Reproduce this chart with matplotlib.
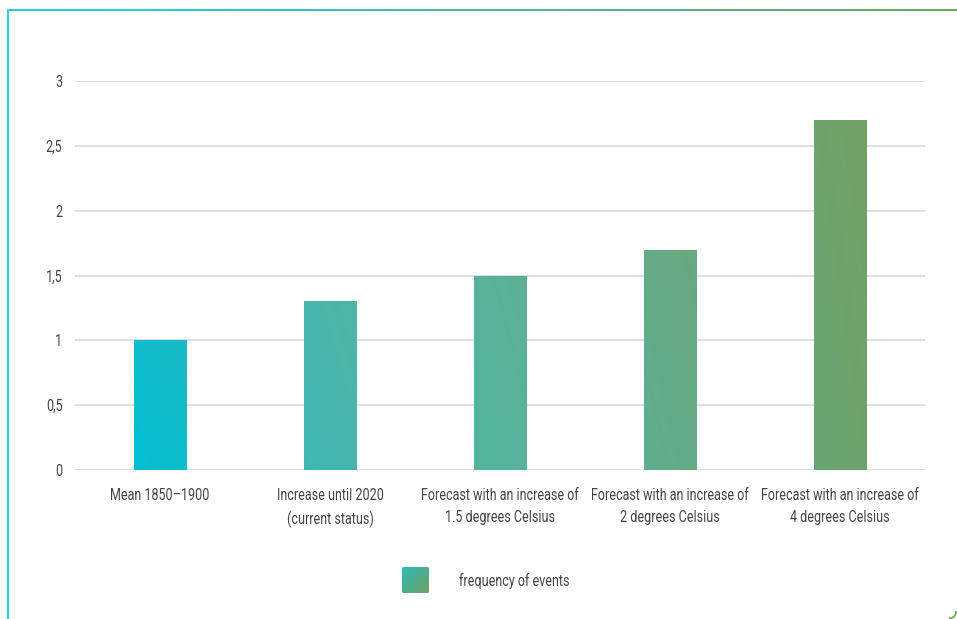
import os
import numpy as np
import matplotlib
matplotlib.use("Agg")
import matplotlib.pyplot as plt
from matplotlib import font_manager
from matplotlib.font_manager import FontProperties
from matplotlib.colors import LinearSegmentedColormap
from matplotlib.patches import Rectangle, FancyBboxPatch
from matplotlib.collections import LineCollection

categories = ["Mean 1850–1900",
              "Increase until 2020\n(current status)",
              "Forecast with an increase of\n1.5 degrees Celsius",
              "Forecast with an increase of\n2 degrees Celsius",
              "Forecast with an increase of\n4 degrees Celsius"]
values = [1.0, 1.3, 1.5, 1.7, 2.7]
yticks = [0, 0.5, 1, 1.5, 2, 2.5, 3]
ytick_labels = ["0", "0,5", "1", "1,5", "2", "2,5", "3"]
legend_label = "frequency of events"


def make_narrow_font(sx=0.72):
    """Build a horizontally condensed copy of Roboto (still a real font)."""
    from fontTools.ttLib import TTFont
    src = font_manager.findfont(FontProperties(family="Roboto"), fallback_to_default=False)
    f = TTFont(src)
    if "glyf" not in f:
        raise RuntimeError("not truetype")
    for t in ("gvar", "HVAR", "fvar", "avar", "STAT", "MVAR", "cvar", "GPOS", "kern"):
        if t in f:
            del f[t]
    glyf = f["glyf"]
    for name in glyf.keys():
        g = glyf[name]
        if g.isComposite():
            for c in g.components:
                c.x = int(round(c.x * sx))
        elif g.numberOfContours > 0:
            g.coordinates.scale((sx, 1.0))
            g.coordinates.toInt()
        if g.numberOfContours != 0:
            g.recalcBounds(glyf)
    hmtx = f["hmtx"]
    for name, (adv, lsb) in list(hmtx.metrics.items()):
        hmtx.metrics[name] = (int(round(adv * sx)), int(round(lsb * sx)))
    fam = "RobotoNarrowed"
    for rec in f["name"].names:
        if rec.nameID in (1, 4, 6, 16, 21):
            rec.string = fam
        elif rec.nameID in (2, 17, 22):
            rec.string = "Regular"
    out = os.path.abspath("roboto_narrowed.ttf")
    f.save(out)
    font_manager.fontManager.addfont(out)
    return FontProperties(fname=out)


try:
    fp = make_narrow_font(0.72)
    base_size = 12.5
except Exception:
    fp = FontProperties(family=["Roboto", "DejaVu Sans"])
    base_size = 8.5

W, H = 957, 619
fig = plt.figure(figsize=(W / 100, H / 100), dpi=100)
fig.patch.set_facecolor("white")

ax = fig.add_axes([75 / W, (H - 470) / H, 850 / W, (470 - 81) / H])

bar_colors = [((4, 192, 212), (24, 186, 196)),
              ((62, 184, 180), (80, 180, 164)),
              ((82, 181, 160), (92, 176, 148)),
              ((94, 174, 142), (106, 168, 128)),
              ((104, 166, 116), (114, 162, 100))]
n = len(values)
bw = 0.31
for i, v in enumerate(values):
    ca, cb = [np.array(c) / 255 for c in bar_colors[i]]
    cmap = LinearSegmentedColormap.from_list("g%d" % i, [ca, cb])
    xx, yy = np.meshgrid(np.linspace(0, 1, 30), np.linspace(0, 1, 60))
    grad = (xx + yy) / 2
    x0, x1 = i - bw / 2, i + bw / 2
    rect = Rectangle((x0, 0), bw, v, facecolor="none", edgecolor="none")
    ax.add_patch(rect)
    im = ax.imshow(grad, cmap=cmap, extent=(x0, x1, 0, v), origin="lower",
                   aspect="auto", zorder=3, interpolation="bilinear")
    im.set_clip_path(rect)
ax.set_xlim(-0.5, 4.5)
ax.set_ylim(0, 3)

ax.set_yticks(yticks)
ax.set_yticklabels(ytick_labels)
ax.set_xticks(range(n))
ax.set_xticklabels(categories)
ax.grid(axis="y", color="#d9d9d9", linewidth=1.2, zorder=0)
ax.set_axisbelow(True)
for s in ax.spines.values():
    s.set_visible(False)
ax.tick_params(axis="y", length=0, pad=9, labelcolor="#444444")
ax.tick_params(axis="x", length=0, pad=13, labelcolor="#444444")
for lbl in ax.get_xticklabels() + ax.get_yticklabels():
    lbl.set_fontproperties(fp)
    lbl.set_fontsize(base_size)
    lbl.set_linespacing(1.58)

# legend / frame overlay
lax = fig.add_axes([0, 0, 1, 1], zorder=-1)
lax.axis("off")
xx, yy = np.meshgrid(np.linspace(0, 1, 20), np.linspace(0, 1, 20))
lcmap = LinearSegmentedColormap.from_list("leg", [np.array([48, 184, 184]) / 255,
                                                  np.array([112, 162, 100]) / 255])
lrect = FancyBboxPatch((402, 567), 27, 26, boxstyle="round,pad=0,rounding_size=1.5",
                       facecolor="none", edgecolor="none")
lax.add_patch(lrect)
lim = lax.imshow((xx + (1 - yy)) / 2, cmap=lcmap, extent=(402, 429, 593, 567),
                 origin="lower", aspect="auto", interpolation="bilinear")
lim.set_clip_path(lrect)
lax.set_xlim(0, W)
lax.set_ylim(H, 0)
t = fig.text(459 / W, 1 - 581 / H, legend_label, color="#444444",
             va="center", ha="left", fontproperties=fp)
t.set_fontsize(base_size)

xs = np.linspace(7, W, 200)
pts = np.array([xs, np.full_like(xs, 10)]).T.reshape(-1, 1, 2)
segs = np.concatenate([pts[:-1], pts[1:]], axis=1)
fcmap = LinearSegmentedColormap.from_list("frame", [np.array([40, 205, 220]) / 255,
                                                    np.array([112, 162, 100]) / 255])
lc = LineCollection(segs, cmap=fcmap, linewidth=1.5)
lc.set_array(np.linspace(0, 1, len(segs)))
lax.add_collection(lc)
lax.plot([7.5, 7.5], [10, H], color="#2fd0e0", linewidth=1.5)
th = np.linspace(0, np.pi / 2, 20)
lax.plot(950 + 6 * np.cos(th), 612 + 6 * np.sin(th), color="#6aaa55", linewidth=1.3)

fig.savefig("out.png", dpi=100, facecolor="white")
